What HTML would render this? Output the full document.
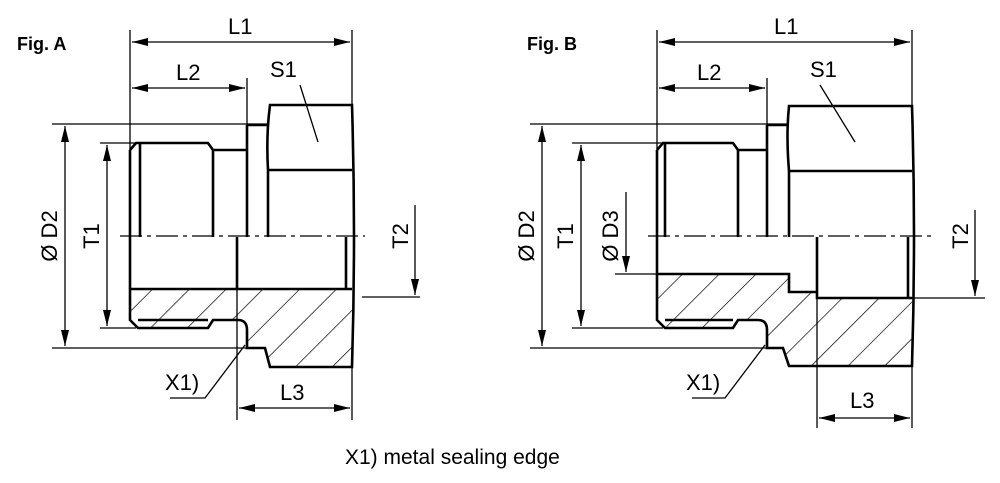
<!DOCTYPE html>
<html><head><meta charset="utf-8"><style>
html,body{margin:0;padding:0;background:#fff;}
svg text{font-family:"Liberation Sans",Arial,sans-serif;fill:#000;}
</style></head><body>
<svg width="1000" height="478" viewBox="0 0 1000 478" xmlns="http://www.w3.org/2000/svg">
<defs>
<pattern id="h" patternUnits="userSpaceOnUse" width="26" height="26" patternTransform="rotate(45)">
<line x1="0" y1="0" x2="0" y2="26" stroke="#000" stroke-width="1.4"/>
</pattern>
<marker id="a" viewBox="0 0 16 8" refX="16" refY="4" markerWidth="16" markerHeight="8" markerUnits="userSpaceOnUse" orient="auto-start-reverse">
<path d="M0,0 L16,4 L0,8 z" fill="#000"/>
</marker>
</defs>

<g stroke="#000" fill="none">
<!-- ========== FIG A ========== -->
<polygon points="130,290 352,290 352,367 270,367 265,348 247,348 247,326 240,320 213,320 208,328 138,328 130,320" fill="url(#h)" stroke="none"/>
<g stroke-width="2.6">
<path d="M130,150 L130,320 L138,328 L208,328 L213,320 L238,320 Q247,320 247,330 L247,348 L265,348 L270,367 L352,367 Q356,236 352,105 L270,105 Q266,135 268,170 L268,237"/>
<path d="M130,150 L136,143 L208,143 L213,150 L247,150"/>
<path d="M140,143 L140,237 M213,150 L213,237 M247,125 L247,237 M268,125 L247,125"/>
<path d="M268,170 L352,170"/>
<path d="M130,289 L352,289 M237,237 L237,289 M346,237 L346,289"/>
<path d="M138,320 L208,320"/>
</g>
<g stroke-width="1.3">
<path d="M120,236 L365,236" stroke-dasharray="22,5,4,5"/>
<path d="M130,30 L130,150 M352,30 L352,105 M247,78 L247,125"/>
<path d="M132,42 L350,42" marker-start="url(#a)" marker-end="url(#a)"/>
<path d="M132,88 L245,88" marker-start="url(#a)" marker-end="url(#a)"/>
<path d="M52,124 L268,124 M100,143 L136,143 M100,328 L136,328 M52,348 L247,348"/>
<path d="M65,126 L65,346" marker-start="url(#a)" marker-end="url(#a)"/>
<path d="M107,145 L107,326" marker-start="url(#a)" marker-end="url(#a)"/>
<path d="M237,289 L237,420 M352,367 L352,420"/>
<path d="M239,408 L350,408" marker-start="url(#a)" marker-end="url(#a)"/>
<path d="M170,398 L205,398 L245,345 M300,85 L318,142"/>
<path d="M362,297 L420,297 M415,205 L415,295" marker-end="url(#a)"/>
</g>

<!-- ========== FIG B ========== -->
<polygon points="657,275 789,275 789,292 817,292 817,298 912,298 912,366 789,366 783,348 767,348 767,326 760,320 738,320 733,328 665,328 657,320" fill="url(#h)" stroke="none"/>
<g stroke-width="2.6">
<path d="M657,150 L657,320 L665,328 L733,328 L738,320 L758,320 Q767,320 767,330 L767,348 L783,348 L789,366 L912,366 Q916,236 912,106 L789,106 Q786,135 789,171 L789,237"/>
<path d="M657,150 L663,143 L733,143 L738,150 L767,150"/>
<path d="M665,143 L665,237 M738,150 L738,237 M767,125 L767,237 M789,125 L767,125"/>
<path d="M789,171 L912,171"/>
<path d="M657,274 L789,274 L789,292 L817,292 L817,298 L912,298 M817,237 L817,298 M908,237 L908,298"/>
<path d="M665,320 L733,320"/>
</g>
<g stroke-width="1.3">
<path d="M648,236 L935,236" stroke-dasharray="22,5,4,5"/>
<path d="M657,30 L657,150 M912,30 L912,106 M767,78 L767,125 M817,298 L817,428 M912,366 L912,428"/>
<path d="M659,42 L910,42" marker-start="url(#a)" marker-end="url(#a)"/>
<path d="M659,88 L765,88" marker-start="url(#a)" marker-end="url(#a)"/>
<path d="M530,124 L789,124 M572,143 L663,143 M572,328 L663,328 M530,348 L767,348 M615,274 L657,274"/>
<path d="M542,126 L542,346" marker-start="url(#a)" marker-end="url(#a)"/>
<path d="M581,145 L581,326" marker-start="url(#a)" marker-end="url(#a)"/>
<path d="M626,192 L626,272" marker-end="url(#a)"/>
<path d="M819,418 L910,418" marker-start="url(#a)" marker-end="url(#a)"/>
<path d="M692,398 L725,398 L765,345 M820,85 L855,142"/>
<path d="M912,298 L985,298 M975,210 L975,296" marker-end="url(#a)"/>
</g>
</g>

<g font-size="22">
<text x="17" y="50" font-weight="bold" font-size="18">Fig. A</text>
<text x="228" y="34">L1</text>
<text x="176" y="80">L2</text>
<text x="270" y="77">S1</text>
<text x="280" y="400">L3</text>
<text x="165" y="390">X1)</text>
<text transform="translate(57,236) rotate(-90)" text-anchor="middle">Ø D2</text>
<text transform="translate(99,236) rotate(-90)" text-anchor="middle">T1</text>
<text transform="translate(408,236) rotate(-90)" text-anchor="middle">T2</text>

<text x="527" y="50" font-weight="bold" font-size="18">Fig. B</text>
<text x="774" y="34">L1</text>
<text x="697" y="80">L2</text>
<text x="810" y="77">S1</text>
<text x="850" y="408">L3</text>
<text x="686" y="390">X1)</text>
<text transform="translate(534,236) rotate(-90)" text-anchor="middle">Ø D2</text>
<text transform="translate(573,236) rotate(-90)" text-anchor="middle">T1</text>
<text transform="translate(618,236) rotate(-90)" text-anchor="middle">Ø D3</text>
<text transform="translate(968,236) rotate(-90)" text-anchor="middle">T2</text>

<text x="345" y="464" font-size="21">X1) metal sealing edge</text>
</g>
</svg>
</body></html>
